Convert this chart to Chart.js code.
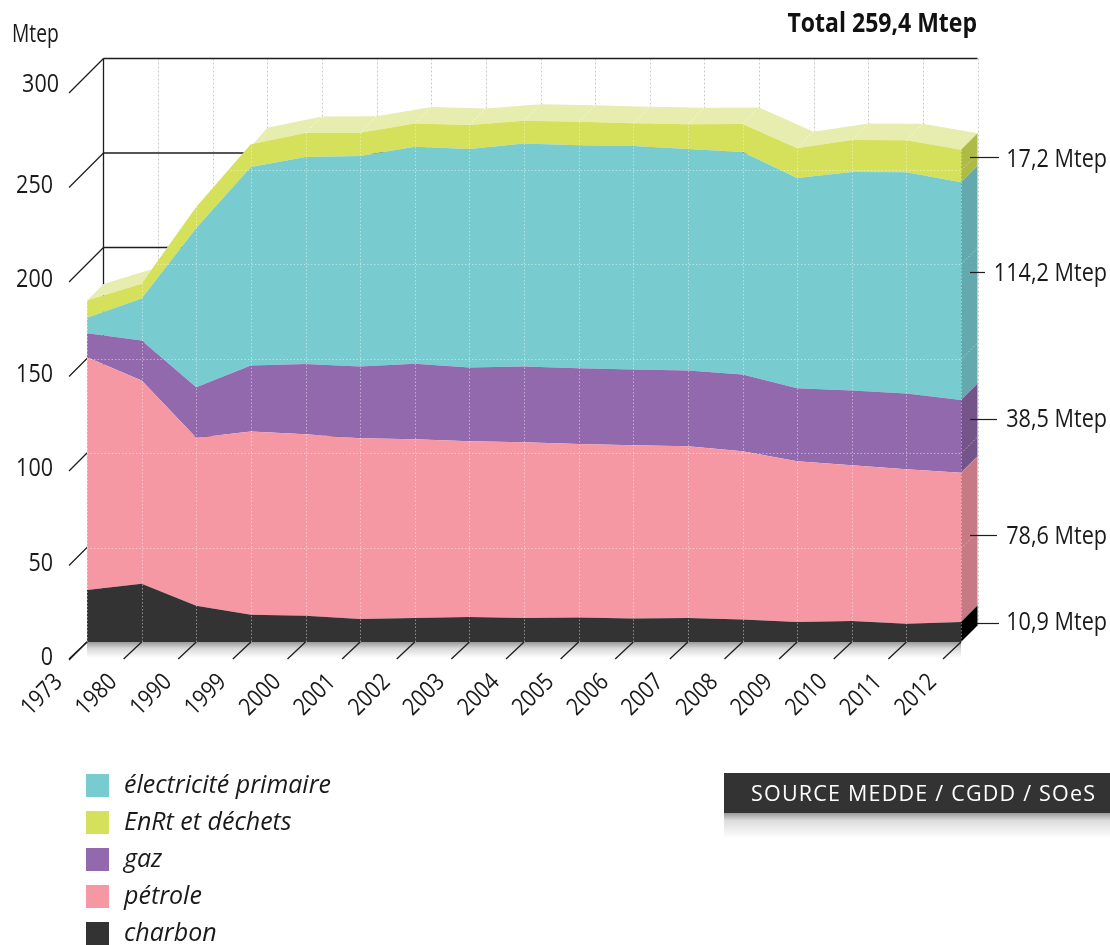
<!DOCTYPE html>
<html lang="fr"><head><meta charset="utf-8">
<style>html,body{margin:0;padding:0;background:#fff}canvas{display:block}</style>
<script src="https://cdn.jsdelivr.net/npm/chart.js@4"></script></head>
<body><canvas id="c" width="1110" height="945"></canvas>
<script>
const years=['1973','1980','1990','1999','2000','2001','2002','2003','2004','2005','2006','2007','2008','2009','2010','2011','2012'];
const charbon=[27.5,30.8,19.2,14.4,13.9,12.2,12.7,13.2,12.7,13,12.4,12.7,11.9,10.6,11.1,9.7,10.6];
const petrole=[123.1,107.6,88.9,97,96,95.6,94.6,93,93,91.8,91.7,90.9,89,85,82.4,81.7,78.9];
const gaz=[12.7,21.1,26.7,34.9,37.2,38,39.9,39.1,40.1,40.1,40.1,40.1,40.7,38.6,39.6,40.1,38.5];
const electricite=[8.2,22.2,84.2,105,109.5,111.3,114.8,115.6,117.9,117.9,118.2,117.1,117.7,111.3,115.6,117.1,115.2];
const enrt=[9.2,7.9,11.1,12.1,12.7,12.4,12.4,12.7,12.1,12.4,12.1,13.2,14.8,15.8,16.9,16.9,17.2];
const sideLabels=['17,2 Mtep','114,2 Mtep','38,5 Mtep','78,6 Mtep','10,9 Mtep'];
const legendNames=['électricité primaire','EnRt et déchets','gaz','pétrole','charbon'];
const totalLabel='Total 259,4 Mtep', unitLabel='Mtep', sourceLabel='SOURCE MEDDE / CGDD / SOeS';

const col={charbon:'#333333',petrole:'#F697A4',gaz:'#9269AD',elec:'#78CCD0',enrt:'#D5E05B'};
const side={enrt:'#AEBB47',elec:'#64A9AE',gaz:'#755489',petrole:'#C67A85',charbon:'#000000'};
const D=16.5, FONT='"Open Sans"';
const leaders=[[970,999,157,158],[970,985,272,272],[970,997,419,418],[970,997,535,535],[977,999,623,621]];

function line(ctx,x1,y1,x2,y2){ctx.beginPath();ctx.moveTo(x1,y1);ctx.lineTo(x2,y2);ctx.stroke();}
function topPts(chart){return chart.getDatasetMeta(chart.data.datasets.length-1).data;}
function T(ctx,s,x,y,f){ctx.fillText(s,x,y,ctx.measureText(s).width*f);}

const backdrop={id:'backdrop',beforeDatasetsDraw(chart){
  const {ctx,scales:{x,y},chartArea:a}=chart; ctx.save();
  const g=ctx.createLinearGradient(0,a.bottom,0,a.bottom+16);
  g.addColorStop(0,'#9a9a9a');g.addColorStop(.4,'#d8d8d8');g.addColorStop(1,'#ffffff');
  ctx.fillStyle=g;ctx.fillRect(a.left,a.bottom,a.right-a.left,16);
  ctx.strokeStyle='#c9c9c9';ctx.lineWidth=1;ctx.setLineDash([2,2]);
  years.forEach((_,i)=>{const px=Math.round(x.getPixelForTick(i)+D)+.5;if(i>0)line(ctx,px,y.getPixelForValue(300)-D,px,a.bottom-D);});
  ctx.setLineDash([]);
  ctx.strokeStyle='#1d1d1d';ctx.lineWidth=1.3;
  const wx=a.left+D;
  line(ctx,wx,y.getPixelForValue(300)-D,wx,a.bottom-D);
  y.ticks.forEach(t=>{const py=y.getPixelForValue(t.value);
    line(ctx,a.left-18,py+18,wx,py-D);
    if(t.value===300) line(ctx,wx,py-D,a.right+D,py-D);
    else line(ctx,wx,py-D,a.right,py-D);
  });
  years.forEach((_,i)=>{const px=x.getPixelForTick(i);line(ctx,px-18,a.bottom+17,px,a.bottom);});
  const pts=topPts(chart);
  ctx.fillStyle='#E6EDAE';ctx.beginPath();
  pts.forEach((p,i)=>i?ctx.lineTo(p.x,p.y):ctx.moveTo(p.x,p.y));
  [...pts].reverse().forEach(p=>ctx.lineTo(p.x+D,p.y-D));ctx.closePath();ctx.fill();
  ctx.strokeStyle='rgba(255,255,255,.7)';ctx.lineWidth=1;ctx.setLineDash([1.5,2]);
  pts.forEach(p=>line(ctx,p.x,p.y,p.x+D,p.y-D));
  ctx.restore();
}};

const overlay={id:'overlay',afterDatasetsDraw(chart){
  const {ctx,scales:{x,y},chartArea:a}=chart; ctx.save();
  const pts=topPts(chart), L=years.length-1;
  const order=[[4,side.enrt],[3,side.elec],[2,side.gaz],[1,side.petrole],[0,side.charbon]];
  order.forEach(([k,c])=>{
    const t=chart.getDatasetMeta(k).data[L];
    const by=k?chart.getDatasetMeta(k-1).data[L].y:a.bottom;
    ctx.fillStyle=c;ctx.beginPath();ctx.moveTo(t.x,t.y);ctx.lineTo(t.x+D,t.y-D);ctx.lineTo(t.x+D,by-D);ctx.lineTo(t.x,by);ctx.closePath();ctx.fill();
  });
  ctx.save();ctx.beginPath();
  ctx.moveTo(a.left,a.bottom);pts.forEach(p=>ctx.lineTo(p.x,p.y));
  const e=pts[L];ctx.lineTo(e.x+D,e.y-D);ctx.lineTo(e.x+D,a.bottom-D);ctx.lineTo(e.x,a.bottom);ctx.closePath();ctx.clip();
  ctx.strokeStyle='rgba(255,255,255,.45)';ctx.lineWidth=1;ctx.setLineDash([1.5,2]);
  y.ticks.forEach(t=>{if(!t.value)return;const py=Math.round(y.getPixelForValue(t.value))+.5;
    line(ctx,a.left,py,a.right,py);line(ctx,a.right,py,a.right+D,py-D);});
  years.forEach((_,i)=>{const px=Math.round(x.getPixelForTick(i))+.5;line(ctx,px,a.bottom,px,a.top);});
  ctx.restore();
  ctx.setLineDash([]);
  ctx.fillStyle='#1a1a1a';ctx.textBaseline='middle';
  ctx.font='400 25px '+FONT;ctx.textAlign='right';
  y.ticks.forEach(t=>{const py=y.getPixelForValue(t.value);
    if(t.value===300)T(ctx,t.label,59,py+10,.86);else T(ctx,t.label,53,py+16,.86);});
  ctx.font='400 24px '+FONT;ctx.textAlign='center';
  years.forEach((yr,i)=>{ctx.save();ctx.translate(x.getPixelForTick(i)-45,695);ctx.rotate(-Math.PI/4);T(ctx,yr,0,0,.86);ctx.restore();});
  ctx.font='400 26px '+FONT;ctx.textAlign='left';T(ctx,unitLabel,12,35,.74);
  ctx.font='700 26px '+FONT;ctx.textAlign='right';ctx.fillStyle='#111';T(ctx,totalLabel,977,25,.885);
  ctx.fillStyle='#1a1a1a';ctx.strokeStyle='#1d1d1d';ctx.lineWidth=1.2;
  ctx.font='400 25px '+FONT;ctx.textAlign='right';
  sideLabels.forEach((s,i)=>{const [x1,x2,ly,ty]=leaders[i];line(ctx,x1,ly+.5,x2,ly+.5);T(ctx,s,1107,ty+2,.865);});
  const swatch=[col.elec,col.enrt,col.gaz,col.petrole,col.charbon];
  ctx.textAlign='left';ctx.font='italic 400 25px '+FONT;
  legendNames.forEach((s,i)=>{const top=774+37*i;ctx.fillStyle=swatch[i];ctx.fillRect(86,top,23,23);ctx.fillStyle='#1a1a1a';T(ctx,s,124,top+12,1);});
  ctx.fillStyle='#333';ctx.fillRect(724,773,386,40);
  const g=ctx.createLinearGradient(0,813,0,838);g.addColorStop(0,'#9a9a9a');g.addColorStop(.3,'#dcdcdc');g.addColorStop(1,'#fff');
  ctx.fillStyle=g;ctx.fillRect(724,813,386,25);
  ctx.fillStyle='#fff';ctx.font='400 21.5px '+FONT;ctx.textAlign='left';
  ctx.letterSpacing=((344-ctx.measureText(sourceLabel).width)/25).toFixed(2)+'px';
  ctx.fillText(sourceLabel,751,795);ctx.letterSpacing='0px';
  ctx.restore();
}};

const mk=(label,data,color,fill)=>({label,data,backgroundColor:color,borderColor:color,borderWidth:0,pointRadius:0,fill,tension:0});
new Chart(document.getElementById('c'),{type:'line',
  data:{labels:years,datasets:[
    mk('charbon',charbon,col.charbon,'origin'),
    mk('pétrole',petrole,col.petrole,'-1'),
    mk('gaz',gaz,col.gaz,'-1'),
    mk('électricité primaire',electricite,col.elec,'-1'),
    mk('EnRt et déchets',enrt,col.enrt,'-1')]},
  options:{responsive:false,animation:false,devicePixelRatio:1,
    layout:{padding:{left:87,right:149,top:75,bottom:303},autoPadding:false},
    plugins:{legend:{display:false},tooltip:{enabled:false}},
    scales:{
      x:{offset:false,grid:{display:false},border:{display:false},ticks:{display:false,autoSkip:false},afterFit(s){s.height=0;}},
      y:{stacked:true,min:0,max:300,grid:{display:false},border:{display:false},ticks:{display:false,stepSize:50},afterFit(s){s.width=0;}}
    }},
  plugins:[backdrop,overlay]});
</script></body></html>
